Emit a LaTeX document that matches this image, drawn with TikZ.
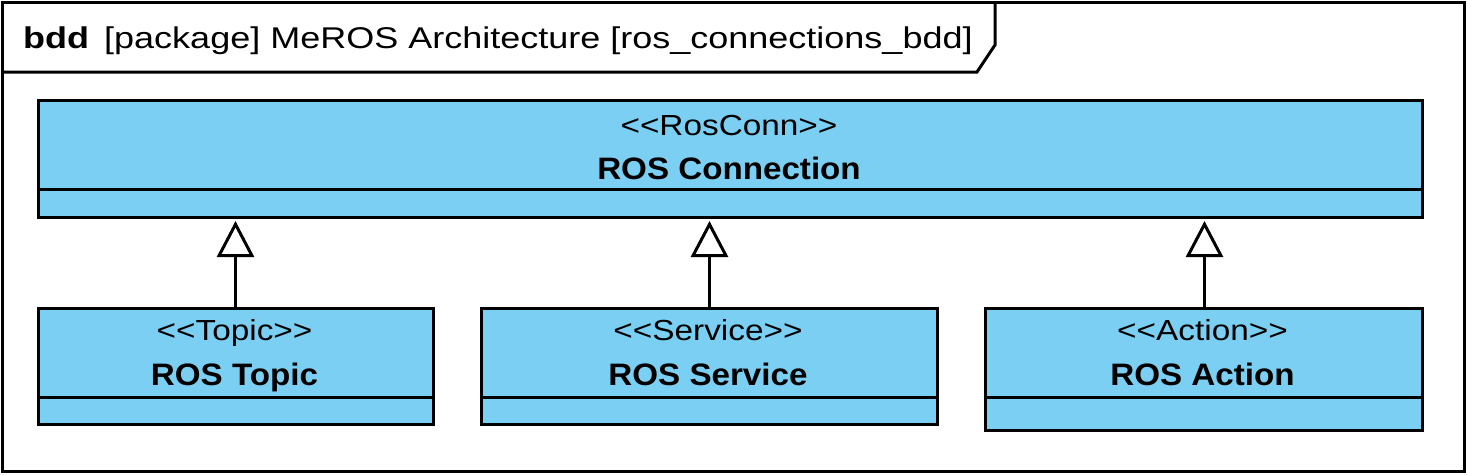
\documentclass[tikz,border=0pt]{standalone}
\usepackage{fontspec}
\setmainfont{Liberation Sans}
\newfontfamily\hdrfont[FakeStretch=1.2]{Liberation Sans}
\newfontfamily\stereofont[FakeStretch=1.15]{Liberation Sans}
\newfontfamily\namefont[FakeStretch=1.07]{Liberation Sans}
\usetikzlibrary{arrows.meta}
\definecolor{blockfill}{RGB}{122,207,243}
\begin{document}
\begin{tikzpicture}[x=1pt,y=-1pt,
  frame/.style={line width=3pt},
  block/.style={draw,line width=3pt,fill=blockfill,rectangle,inner sep=0pt,anchor=north west},
  stereo/.style={font=\stereofont\fontsize{29}{32}\selectfont,inner sep=0pt,anchor=base},
  bname/.style={font=\namefont\fontsize{31}{35}\selectfont\bfseries,inner sep=0pt,anchor=base},
  gen/.style={line width=3pt,-{Triangle[open,length=36pt,width=37pt,line width=3pt]},shorten >=2pt},
  hdr/.style={font=\hdrfont\fontsize{30}{34}\selectfont,inner sep=0pt,anchor=base west}
]
\useasboundingbox (0,0) rectangle (1467,474);
% outer frame
\draw[frame] (2,2) rectangle (1464,471);
\draw[frame] (2,72) -- (977,72) -- (995,45) -- (995,2);
\node[hdr] (hb) at (23,48) {\bfseries bdd};
\node[hdr] (ht) at (104,48) {[package] MeROS Architecture [ros\_connections\_bdd]};
% top block
\node[block,minimum width=1384pt,minimum height=117pt] (conn) at (37,99) {};
\draw[line width=3pt] (37,189) -- (1421,189);
\node[stereo] (connS) at (729,135) {<{}<RosConn>{}>};
\node[bname] (connN) at (729,179) {ROS Connection};
% topic
\node[block,minimum width=395pt,minimum height=116pt] (topic) at (37,307) {};
\draw[line width=3pt] (37,397) -- (432,397);
\node[stereo] (topicS) at (234.5,340) {<{}<Topic>{}>};
\node[bname] (topicN) at (234.5,385) {ROS Topic};
% service
\node[block,minimum width=456pt,minimum height=116pt] (service) at (480,307) {};
\draw[line width=3pt] (480,397) -- (936,397);
\node[stereo] (serviceS) at (708,340) {<{}<Service>{}>};
\node[bname] (serviceN) at (708,385) {ROS Service};
% action
\node[block,minimum width=437pt,minimum height=122pt] (action) at (984,307) {};
\draw[line width=3pt] (984,397) -- (1421,397);
\node[stereo] (actionS) at (1202.5,340) {<{}<Action>{}>};
\node[bname] (actionN) at (1202.5,385) {ROS Action};
% generalizations
\draw[gen] ([xshift=-0.5pt]topic.north) -- ([xshift=-0.5pt]topic.north |- conn.south);
\draw[gen] (service.north) -- (service.north |- conn.south);
\draw[gen] ([xshift=0.5pt]action.north) -- ([xshift=0.5pt]action.north |- conn.south);
\end{tikzpicture}
\end{document}
